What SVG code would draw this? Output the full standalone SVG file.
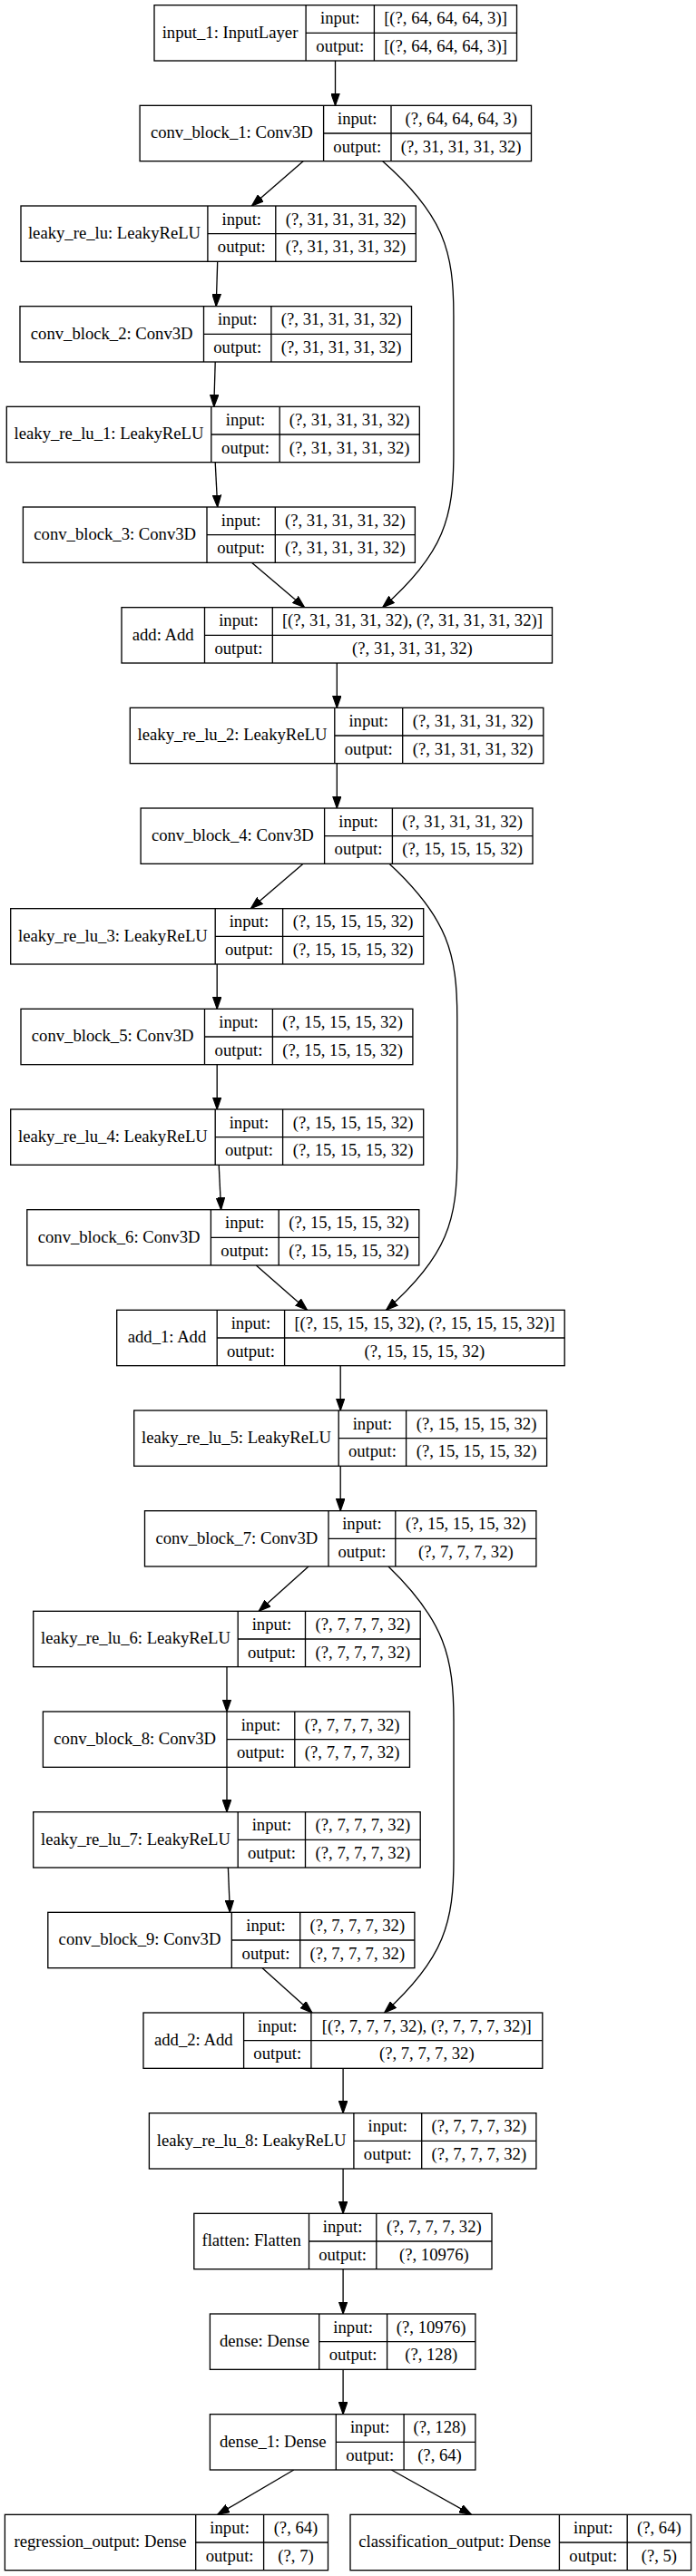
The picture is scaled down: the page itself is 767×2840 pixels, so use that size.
<svg xmlns="http://www.w3.org/2000/svg" width="767" height="2840" viewBox="0 0 767 2840">
<style>
.b{fill:#fff;stroke:#000;stroke-width:1.33}
.l{stroke:#000;stroke-width:1.33;fill:none}
text{font-family:"Liberation Serif","Times New Roman",serif;font-size:18.67px;fill:#000;text-anchor:middle}
.e{stroke:#000;stroke-width:1.33;fill:none;marker-end:url(#arr)}
</style>
<defs>
<marker id="arr" viewBox="0 0 14 10" refX="13.33" refY="5" markerWidth="14" markerHeight="10" markerUnits="userSpaceOnUse" orient="auto">
<path d="M0,0.33 L13.33,5 L0,9.67 Z" fill="#000" stroke="#000" stroke-width="1.2"/>
</marker>
</defs>
<rect x="0" y="0" width="767" height="2840" fill="#fff"/>

<g id="edges">
<path class="e" d="M369.5,67 L369.5,116.33"/>
<path class="e" d="M334.1,177.67 L277.4,227"/>
<path class="e" d="M239.7,288.33 L238.2,337.67"/>
<path class="e" d="M237.2,399 L235.8,448.33"/>
<path class="e" d="M237.2,509.67 L239.7,559"/>
<path class="e" d="M277.4,620.33 L335.6,669.67"/>
<path class="e" d="M421.7,177.67 C489.9,237.67 499.9,277.67 499.9,347.67 L499.9,499.67 C499.9,569.67 489.9,609.67 421.7,669.67"/>
<path class="e" d="M371.3,731 L371.3,780.33"/>
<path class="e" d="M371.3,841.67 L371.3,891"/>
<path class="e" d="M334.1,952.33 L276.4,1001.67"/>
<path class="e" d="M239.2,1063 L239.2,1112.33"/>
<path class="e" d="M239.2,1173.67 L239.2,1223"/>
<path class="e" d="M241.2,1284.33 L243.6,1333.67"/>
<path class="e" d="M282.3,1395 L338.5,1444.33"/>
<path class="e" d="M429,952.33 C493.8,1012.33 503.8,1052.33 503.8,1122.33 L503.8,1274.33 C503.8,1344.33 493.8,1384.33 425.6,1444.33"/>
<path class="e" d="M375.2,1505.67 L375.2,1555"/>
<path class="e" d="M375.2,1616.33 L375.2,1665.67"/>
<path class="e" d="M340,1727 L285.2,1776.33"/>
<path class="e" d="M250,1837.67 L250,1887"/>
<path class="e" d="M250,1948.33 L250,1997.67"/>
<path class="e" d="M251.4,2059 L253.4,2108.33"/>
<path class="e" d="M289.1,2169.67 L343.9,2219"/>
<path class="e" d="M428,1727 C490,1787 500,1827 500,1897 L500,2049 C500,2119 490,2159 423.6,2219"/>
<path class="e" d="M378.1,2280.33 L378.1,2329.67"/>
<path class="e" d="M378.1,2391 L378.1,2440.33"/>
<path class="e" d="M378.1,2501.67 L378.1,2551"/>
<path class="e" d="M378.1,2612.33 L378.1,2661.67"/>
<path class="e" d="M323.8,2723 L239.7,2772.33"/>
<path class="e" d="M431.4,2723 L519.5,2772.33"/>
</g>

<g id="input_1" transform="translate(0,5.67)">
<rect class="b" x="170" y="0" width="399.5" height="61.33"/>
<path class="l" d="M337.1,0V61.33M412.4,0V61.33M337.1,30.67H569.5"/>
<text x="253.5" y="36">input_1: InputLayer</text>
<text x="374.8" y="20.6">input:</text><text x="374.8" y="51.3">output:</text>
<text x="491" y="20.6">[(?, 64, 64, 64, 3)]</text><text x="491" y="51.3">[(?, 64, 64, 64, 3)]</text>
</g>

<g id="conv_block_1" transform="translate(0,116.33)">
<rect class="b" x="154.1" y="0" width="431.4" height="61.33"/>
<path class="l" d="M356.6,0V61.33M431,0V61.33M356.6,30.67H585.5"/>
<text x="255.3" y="36">conv_block_1: Conv3D</text>
<text x="393.8" y="20.6">input:</text><text x="393.8" y="51.3">output:</text>
<text x="508.2" y="20.6">(?, 64, 64, 64, 3)</text><text x="508.2" y="51.3">(?, 31, 31, 31, 32)</text>
</g>

<g id="leaky_re_lu" transform="translate(0,227)">
<rect class="b" x="23" y="0" width="435.3" height="61.33"/>
<path class="l" d="M228.9,0V61.33M303.8,0V61.33M228.9,30.67H458.3"/>
<text x="126" y="36">leaky_re_lu: LeakyReLU</text>
<text x="266.3" y="20.6">input:</text><text x="266.3" y="51.3">output:</text>
<text x="381" y="20.6">(?, 31, 31, 31, 32)</text><text x="381" y="51.3">(?, 31, 31, 31, 32)</text>
</g>

<g id="conv_block_2" transform="translate(0,337.67)">
<rect class="b" x="22" y="0" width="431.5" height="61.33"/>
<path class="l" d="M224.5,0V61.33M298.9,0V61.33M224.5,30.67H453.5"/>
<text x="123.2" y="36">conv_block_2: Conv3D</text>
<text x="261.7" y="20.6">input:</text><text x="261.7" y="51.3">output:</text>
<text x="376.2" y="20.6">(?, 31, 31, 31, 32)</text><text x="376.2" y="51.3">(?, 31, 31, 31, 32)</text>
</g>

<g id="leaky_re_lu_1" transform="translate(0,448.33)">
<rect class="b" x="7.3" y="0" width="455" height="61.33"/>
<path class="l" d="M232.8,0V61.33M308.2,0V61.33M232.8,30.67H462.3"/>
<text x="120" y="36">leaky_re_lu_1: LeakyReLU</text>
<text x="270.5" y="20.6">input:</text><text x="270.5" y="51.3">output:</text>
<text x="385.2" y="20.6">(?, 31, 31, 31, 32)</text><text x="385.2" y="51.3">(?, 31, 31, 31, 32)</text>
</g>

<g id="conv_block_3" transform="translate(0,559)">
<rect class="b" x="25.4" y="0" width="432" height="61.33"/>
<path class="l" d="M228,0V61.33M303.3,0V61.33M228,30.67H457.4"/>
<text x="126.7" y="36">conv_block_3: Conv3D</text>
<text x="265.6" y="20.6">input:</text><text x="265.6" y="51.3">output:</text>
<text x="380.3" y="20.6">(?, 31, 31, 31, 32)</text><text x="380.3" y="51.3">(?, 31, 31, 31, 32)</text>
</g>

<g id="add" transform="translate(0,669.67)">
<rect class="b" x="134" y="0" width="474.5" height="61.33"/>
<path class="l" d="M225.5,0V61.33M300.3,0V61.33M225.5,30.67H608.5"/>
<text x="179.7" y="36">add: Add</text>
<text x="262.9" y="20.6">input:</text><text x="262.9" y="51.3">output:</text>
<text x="454.4" y="20.6">[(?, 31, 31, 31, 32), (?, 31, 31, 31, 32)]</text><text x="454.4" y="51.3">(?, 31, 31, 31, 32)</text>
</g>

<g id="leaky_re_lu_2" transform="translate(0,780.33)">
<rect class="b" x="143.3" y="0" width="455.5" height="61.33"/>
<path class="l" d="M368.8,0V61.33M443.7,0V61.33M368.8,30.67H598.8"/>
<text x="256" y="36">leaky_re_lu_2: LeakyReLU</text>
<text x="406.2" y="20.6">input:</text><text x="406.2" y="51.3">output:</text>
<text x="521.2" y="20.6">(?, 31, 31, 31, 32)</text><text x="521.2" y="51.3">(?, 31, 31, 31, 32)</text>
</g>

<g id="conv_block_4" transform="translate(0,891)">
<rect class="b" x="155.1" y="0" width="431.9" height="61.33"/>
<path class="l" d="M357.6,0V61.33M432.4,0V61.33M357.6,30.67H587"/>
<text x="256.3" y="36">conv_block_4: Conv3D</text>
<text x="395" y="20.6">input:</text><text x="395" y="51.3">output:</text>
<text x="509.7" y="20.6">(?, 31, 31, 31, 32)</text><text x="509.7" y="51.3">(?, 15, 15, 15, 32)</text>
</g>

<g id="leaky_re_lu_3" transform="translate(0,1001.67)">
<rect class="b" x="11.7" y="0" width="455" height="61.33"/>
<path class="l" d="M237.2,0V61.33M311.6,0V61.33M237.2,30.67H466.7"/>
<text x="124.4" y="36">leaky_re_lu_3: LeakyReLU</text>
<text x="274.4" y="20.6">input:</text><text x="274.4" y="51.3">output:</text>
<text x="389.2" y="20.6">(?, 15, 15, 15, 32)</text><text x="389.2" y="51.3">(?, 15, 15, 15, 32)</text>
</g>

<g id="conv_block_5" transform="translate(0,1112.33)">
<rect class="b" x="23" y="0" width="431.9" height="61.33"/>
<path class="l" d="M225.5,0V61.33M300.4,0V61.33M225.5,30.67H454.9"/>
<text x="124.2" y="36">conv_block_5: Conv3D</text>
<text x="263" y="20.6">input:</text><text x="263" y="51.3">output:</text>
<text x="377.6" y="20.6">(?, 15, 15, 15, 32)</text><text x="377.6" y="51.3">(?, 15, 15, 15, 32)</text>
</g>

<g id="leaky_re_lu_4" transform="translate(0,1223)">
<rect class="b" x="11.7" y="0" width="455" height="61.33"/>
<path class="l" d="M237.2,0V61.33M311.6,0V61.33M237.2,30.67H466.7"/>
<text x="124.4" y="36">leaky_re_lu_4: LeakyReLU</text>
<text x="274.4" y="20.6">input:</text><text x="274.4" y="51.3">output:</text>
<text x="389.2" y="20.6">(?, 15, 15, 15, 32)</text><text x="389.2" y="51.3">(?, 15, 15, 15, 32)</text>
</g>

<g id="conv_block_6" transform="translate(0,1333.67)">
<rect class="b" x="29.8" y="0" width="432" height="61.33"/>
<path class="l" d="M232.4,0V61.33M307.2,0V61.33M232.4,30.67H461.8"/>
<text x="131.1" y="36">conv_block_6: Conv3D</text>
<text x="269.8" y="20.6">input:</text><text x="269.8" y="51.3">output:</text>
<text x="384.5" y="20.6">(?, 15, 15, 15, 32)</text><text x="384.5" y="51.3">(?, 15, 15, 15, 32)</text>
</g>

<g id="add_1" transform="translate(0,1444.33)">
<rect class="b" x="128.7" y="0" width="493.5" height="61.33"/>
<path class="l" d="M239.2,0V61.33M313.6,0V61.33M239.2,30.67H622.2"/>
<text x="184" y="36">add_1: Add</text>
<text x="276.4" y="20.6">input:</text><text x="276.4" y="51.3">output:</text>
<text x="467.9" y="20.6">[(?, 15, 15, 15, 32), (?, 15, 15, 15, 32)]</text><text x="467.9" y="51.3">(?, 15, 15, 15, 32)</text>
</g>

<g id="leaky_re_lu_5" transform="translate(0,1555)">
<rect class="b" x="147.7" y="0" width="454.9" height="61.33"/>
<path class="l" d="M373.2,0V61.33M447.6,0V61.33M373.2,30.67H602.6"/>
<text x="260.5" y="36">leaky_re_lu_5: LeakyReLU</text>
<text x="410.4" y="20.6">input:</text><text x="410.4" y="51.3">output:</text>
<text x="525.1" y="20.6">(?, 15, 15, 15, 32)</text><text x="525.1" y="51.3">(?, 15, 15, 15, 32)</text>
</g>

<g id="conv_block_7" transform="translate(0,1665.67)">
<rect class="b" x="159.5" y="0" width="431.4" height="61.33"/>
<path class="l" d="M362,0V61.33M435.8,0V61.33M362,30.67H590.9"/>
<text x="260.8" y="36">conv_block_7: Conv3D</text>
<text x="398.9" y="20.6">input:</text><text x="398.9" y="51.3">output:</text>
<text x="513.4" y="20.6">(?, 15, 15, 15, 32)</text><text x="513.4" y="51.3">(?, 7, 7, 7, 32)</text>
</g>

<g id="leaky_re_lu_6" transform="translate(0,1776.33)">
<rect class="b" x="36.7" y="0" width="426.5" height="61.33"/>
<path class="l" d="M262.2,0V61.33M336.5,0V61.33M262.2,30.67H463.2"/>
<text x="149.5" y="36">leaky_re_lu_6: LeakyReLU</text>
<text x="299.4" y="20.6">input:</text><text x="299.4" y="51.3">output:</text>
<text x="399.9" y="20.6">(?, 7, 7, 7, 32)</text><text x="399.9" y="51.3">(?, 7, 7, 7, 32)</text>
</g>

<g id="conv_block_8" transform="translate(0,1887)">
<rect class="b" x="47.4" y="0" width="404.1" height="61.33"/>
<path class="l" d="M250,0V61.33M324.8,0V61.33M250,30.67H451.5"/>
<text x="148.7" y="36">conv_block_8: Conv3D</text>
<text x="287.4" y="20.6">input:</text><text x="287.4" y="51.3">output:</text>
<text x="388.2" y="20.6">(?, 7, 7, 7, 32)</text><text x="388.2" y="51.3">(?, 7, 7, 7, 32)</text>
</g>

<g id="leaky_re_lu_7" transform="translate(0,1997.67)">
<rect class="b" x="36.7" y="0" width="426.5" height="61.33"/>
<path class="l" d="M262.2,0V61.33M336.5,0V61.33M262.2,30.67H463.2"/>
<text x="149.5" y="36">leaky_re_lu_7: LeakyReLU</text>
<text x="299.4" y="20.6">input:</text><text x="299.4" y="51.3">output:</text>
<text x="399.9" y="20.6">(?, 7, 7, 7, 32)</text><text x="399.9" y="51.3">(?, 7, 7, 7, 32)</text>
</g>

<g id="conv_block_9" transform="translate(0,2108.33)">
<rect class="b" x="52.8" y="0" width="404.1" height="61.33"/>
<path class="l" d="M255.3,0V61.33M330.7,0V61.33M255.3,30.67H456.9"/>
<text x="154" y="36">conv_block_9: Conv3D</text>
<text x="293" y="20.6">input:</text><text x="293" y="51.3">output:</text>
<text x="393.8" y="20.6">(?, 7, 7, 7, 32)</text><text x="393.8" y="51.3">(?, 7, 7, 7, 32)</text>
</g>

<g id="add_2" transform="translate(0,2219)">
<rect class="b" x="158" y="0" width="439.8" height="61.33"/>
<path class="l" d="M268.6,0V61.33M342.9,0V61.33M268.6,30.67H597.8"/>
<text x="213.3" y="36">add_2: Add</text>
<text x="305.8" y="20.6">input:</text><text x="305.8" y="51.3">output:</text>
<text x="470.3" y="20.6">[(?, 7, 7, 7, 32), (?, 7, 7, 7, 32)]</text><text x="470.3" y="51.3">(?, 7, 7, 7, 32)</text>
</g>

<g id="leaky_re_lu_8" transform="translate(0,2329.67)">
<rect class="b" x="164.4" y="0" width="426.5" height="61.33"/>
<path class="l" d="M389.9,0V61.33M464.7,0V61.33M389.9,30.67H590.9"/>
<text x="277.1" y="36">leaky_re_lu_8: LeakyReLU</text>
<text x="427.3" y="20.6">input:</text><text x="427.3" y="51.3">output:</text>
<text x="527.8" y="20.6">(?, 7, 7, 7, 32)</text><text x="527.8" y="51.3">(?, 7, 7, 7, 32)</text>
</g>

<g id="flatten" transform="translate(0,2440.33)">
<rect class="b" x="213.8" y="0" width="328.2" height="61.33"/>
<path class="l" d="M340.5,0V61.33M414.8,0V61.33M340.5,30.67H542"/>
<text x="277.1" y="36">flatten: Flatten</text>
<text x="377.6" y="20.6">input:</text><text x="377.6" y="51.3">output:</text>
<text x="478.4" y="20.6">(?, 7, 7, 7, 32)</text><text x="478.4" y="51.3">(?, 10976)</text>
</g>

<g id="dense" transform="translate(0,2551)">
<rect class="b" x="231.4" y="0" width="292.5" height="61.33"/>
<path class="l" d="M351.7,0V61.33M426.6,0V61.33M351.7,30.67H523.9"/>
<text x="291.5" y="36">dense: Dense</text>
<text x="389.1" y="20.6">input:</text><text x="389.1" y="51.3">output:</text>
<text x="475.2" y="20.6">(?, 10976)</text><text x="475.2" y="51.3">(?, 128)</text>
</g>

<g id="dense_1" transform="translate(0,2661.67)">
<rect class="b" x="231.4" y="0" width="292.5" height="61.33"/>
<path class="l" d="M370.3,0V61.33M445.1,0V61.33M370.3,30.67H523.9"/>
<text x="300.8" y="36">dense_1: Dense</text>
<text x="407.7" y="20.6">input:</text><text x="407.7" y="51.3">output:</text>
<text x="484.5" y="20.6">(?, 128)</text><text x="484.5" y="51.3">(?, 64)</text>
</g>

<g id="regression_output" transform="translate(0,2772.33)">
<rect class="b" x="5.4" y="0" width="356.1" height="61.33"/>
<path class="l" d="M215.7,0V61.33M290.6,0V61.33M215.7,30.67H361.5"/>
<text x="110.5" y="36">regression_output: Dense</text>
<text x="253.1" y="20.6">input:</text><text x="253.1" y="51.3">output:</text>
<text x="326" y="20.6">(?, 64)</text><text x="326" y="51.3">(?, 7)</text>
</g>

<g id="classification_output" transform="translate(0,2772.33)">
<rect class="b" x="386" y="0" width="375.6" height="61.33"/>
<path class="l" d="M616.4,0V61.33M691.2,0V61.33M616.4,30.67H761.6"/>
<text x="501.2" y="36">classification_output: Dense</text>
<text x="653.8" y="20.6">input:</text><text x="653.8" y="51.3">output:</text>
<text x="726.4" y="20.6">(?, 64)</text><text x="726.4" y="51.3">(?, 5)</text>
</g>
</svg>
